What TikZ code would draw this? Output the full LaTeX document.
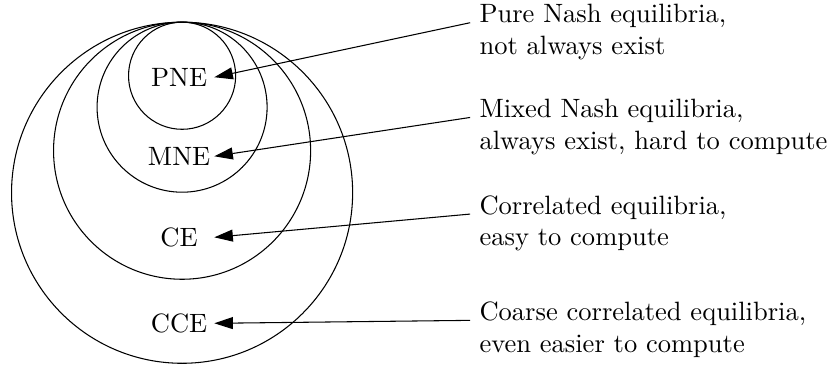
\documentclass[tikz,border=0pt]{standalone}
\usepackage{tikz}
\usetikzlibrary{arrows.meta}

\begin{document}
\begin{tikzpicture}[
        lbl/.style={minimum width=0.92cm, inner sep=1pt},
        desc/.style={anchor=base west, align=left, yshift=-12pt},
        arr/.style={-{Triangle[length=7pt, width=4.5pt]}}
    ]
    \useasboundingbox (0,0) rectangle (11.03,4.87);

    % nested sets, all touching at the top
    \coordinate (top) at (2.414,4.576);
    \foreach \r in {0.710,1.127,1.704,2.261}
        \draw (top) ++(0,-\r) circle (\r);

    \node[lbl] (pne) at (2.374,3.846) {PNE};
    \node[lbl] (mne) at (2.374,2.798) {MNE};
    \node[lbl] (ce) at (2.374,1.724) {CE};
    \node[lbl] (cce) at (2.374,0.584) {CCE};

    % base west of the last line, so the first line sits 12pt higher
    \node[desc] (pnetext) at (6.233,4.569) {Pure Nash equilibria,\\not always exist};
    \node[desc] (mnetext) at (6.233,3.313) {Mixed Nash equilibria,\\always exist, hard to compute};
    \node[desc] (cetext) at (6.233,2.032) {Correlated equilibria,\\easy to compute};
    \node[desc] (ccetext) at (6.233,0.623) {Coarse correlated equilibria,\\even easier to compute};

    \draw[arr] ([yshift=12pt]pnetext.base west) -- (pne.east);
    \draw[arr] ([yshift=12pt]mnetext.base west) -- (mne.east);
    \draw[arr] ([yshift=12pt]cetext.base west) -- (ce.east);
    \draw[arr] ([yshift=12pt]ccetext.base west) -- (cce.east);

\end{tikzpicture}
\end{document}
